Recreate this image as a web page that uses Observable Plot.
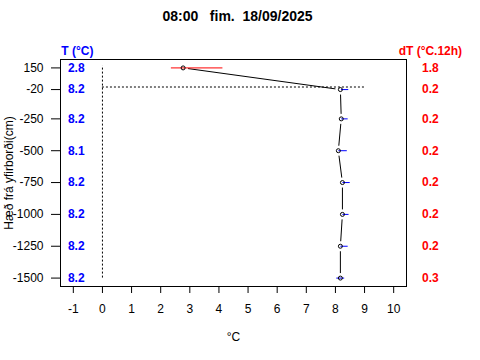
<!DOCTYPE html>
<html><head><meta charset="utf-8">
<script src="https://cdn.jsdelivr.net/npm/d3@7"></script>
<script src="https://cdn.jsdelivr.net/npm/@observablehq/plot@0.6"></script>
<style>
body{margin:0;background:#fff}
svg{font-family:"Liberation Sans",Arial,Helvetica,sans-serif}
</style>
</head><body><div id="chart"></div>
<script>
// Data
const depths = [150, -20, -250, -500, -750, -1000, -1250, -1500];
const temps = [2.77, 8.17, 8.20, 8.10, 8.24, 8.24, 8.17, 8.17];
const tempLabels = ["2.8", "8.2", "8.2", "8.1", "8.2", "8.2", "8.2", "8.2"];
const dTLabels = ["1.8", "0.2", "0.2", "0.2", "0.2", "0.2", "0.2", "0.3"];
const segFrom = [2.35, 8.19, 8.20, 8.10, 8.24, 8.24, 8.17, 8.03];
const segTo = [4.12, 8.44, 8.42, 8.39, 8.49, 8.45, 8.42, 8.30];
const xTicks = [-1, 0, 1, 2, 3, 4, 5, 6, 7, 8, 9, 10];
const title = "08:00\u00a0\u00a0\u00a0fim.\u00a0\u00a018/09/2025";

const rows = depths.map((d, i) => ({depth: d, t: temps[i], tl: tempLabels[i], dl: dTLabels[i], s0: segFrom[i], s1: segTo[i]}));
const pairs = rows.slice(1).map((r, i) => ({x1: rows[i].t, y1: rows[i].depth, x2: r.t, y2: r.depth}));

const chart = Plot.plot({
  width: 480, height: 360,
  marginLeft: 60, marginRight: 74, marginTop: 59, marginBottom: 74,
  x: {domain: [-1.44, 10.44]},
  y: {domain: [-1566, 216]},
  style: {fontFamily: '"Liberation Sans",Arial,sans-serif', fontSize: "12px", color: "black", background: "white"},
  marks: [
    Plot.axisX({ticks: xTicks, tickFormat: d => String(d), tickSize: 7, tickPadding: 11, label: null, fontSize: 12}),
    Plot.axisY({ticks: depths, tickFormat: d => String(d), tickSize: 9, tickPadding: 8, label: null, fontSize: 12}),
    Plot.ruleX([0], {y1: -1500, y2: 165, stroke: "black", strokeDasharray: "2,2"}),
    Plot.ruleY([0], {x1: 0, x2: 9, stroke: "black", strokeDasharray: "2,2"}),
    Plot.arrow(pairs, {x1: "x1", y1: "y1", x2: "x2", y2: "y2", inset: 5, headLength: 0, stroke: "black", strokeWidth: 1, strokeLinecap: "butt"}),
    Plot.link(rows, {filter: (d, i) => i === 0, x1: "s0", x2: "s1", y1: "depth", y2: "depth", stroke: "#FF0000", strokeWidth: 1}),
    Plot.link(rows, {filter: (d, i) => i > 0, x1: "s0", x2: "s1", y1: "depth", y2: "depth", stroke: "#0000FF", strokeWidth: 1}),
    Plot.dot(rows, {x: "t", y: "depth", r: 2, stroke: "black", fill: "none", strokeWidth: 1}),
    Plot.text(rows, {x: () => -0.9, y: "depth", text: "tl", fill: "#0000FF", fontWeight: "bold", fontSize: 12}),
    Plot.text(rows, {x: () => 11.26, y: "depth", text: "dl", fill: "#FF0000", fontWeight: "bold", fontSize: 12}),
    Plot.text(["T (°C)"], {x: () => -0.86, frameAnchor: "top", lineAnchor: "middle", dy: -8, fill: "#0000FF", fontWeight: "bold", fontSize: 12}),
    Plot.text(["dT (°C.12h)"], {x: () => 11.26, frameAnchor: "top", lineAnchor: "middle", dy: -8, fill: "#FF0000", fontWeight: "bold", fontSize: 12}),
    Plot.text([title], {frameAnchor: "top", lineAnchor: "middle", dy: -43, dx: 4, fontWeight: "bold", fontSize: 14, fill: "black"}),
    Plot.text(["°C"], {frameAnchor: "bottom", lineAnchor: "middle", dy: 51, fontSize: 12, fill: "black"}),
    Plot.text(["Hæð frá yfirborði(cm)"], {frameAnchor: "left", textAnchor: "middle", lineAnchor: "middle", dx: -51, rotate: -90, fontSize: 12, fill: "black"}),
    Plot.frame({stroke: "black", strokeWidth: 1})
  ]
});
document.getElementById("chart").append(chart);
</script>
</body></html>
